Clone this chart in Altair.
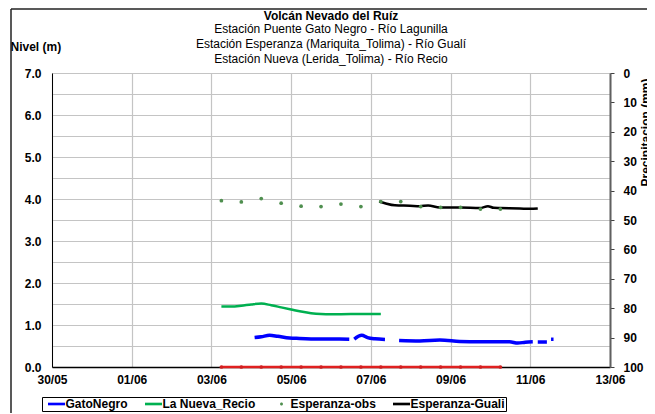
import altair as alt
import pandas as pd

FONT = "Liberation Sans"

# ---------------- data ----------------
series_names = ["GatoNegro", "La Nueva_Recio", "Esperanza-obs", "Esperanza-Guali"]
series_colors = ["#0000ff", "#00b050", "#4f8f4f", "#000000"]

# Esperanza-obs (and the red base series at 0) every 12 h
obs_times = ["06-03T06:00", "06-03T18:00", "06-04T06:00", "06-04T18:00", "06-05T06:00",
             "06-05T18:00", "06-06T06:00", "06-06T18:00", "06-07T06:00", "06-07T18:00",
             "06-08T06:00", "06-08T18:00", "06-09T06:00", "06-09T18:00", "06-10T06:00"]
obs_levels = [3.96, 3.93, 4.01, 3.90, 3.83, 3.82, 3.88, 3.82, 3.94, 3.94, 3.82, 3.80, 3.80, 3.76, 3.76]
base_levels = [0.0, 0.0, 0.0, 0.0, 0.0, 0.0, 0.0, 0.0, 0.0, 0.0, 0.0, 0.0, 0.0, 0.0, 0.0]

# La Nueva_Recio
recio_times = ["06-03T06:00", "06-03T12:00", "06-03T18:00", "06-04T00:00", "06-04T06:00",
               "06-04T12:00", "06-04T18:00", "06-05T00:00", "06-05T06:00", "06-05T12:00",
               "06-05T18:00", "06-06T00:00", "06-06T12:00", "06-07T00:00", "06-07T06:00"]
recio_levels = [1.44, 1.44, 1.46, 1.49, 1.51, 1.47, 1.42, 1.37, 1.32, 1.28, 1.26, 1.255, 1.26, 1.26, 1.26]

# GatoNegro (segments separated by gaps)
gato_times = ["06-04T02:00", "06-04T06:00", "06-04T11:00", "06-04T16:00", "06-04T23:00",
              "06-05T05:00", "06-05T17:00", "06-06T05:00", "06-06T11:00",
              "06-06T14:00", "06-06T18:30", "06-06T22:00", "06-07T02:30", "06-07T08:30",
              "06-07T17:00", "06-08T05:30", "06-08T17:30", "06-09T05:30", "06-09T17:30",
              "06-10T05:30", "06-10T11:30", "06-10T16:30", "06-10T21:00", "06-11T01:30",
              "06-11T04:30", "06-11T10:00",
              "06-11T12:30", "06-11T14:00"]
gato_levels = [0.70, 0.72, 0.755, 0.73, 0.69, 0.68, 0.667, 0.665, 0.66,
               0.665, 0.755, 0.70, 0.67, 0.655,
               0.63, 0.62, 0.64, 0.61, 0.60, 0.60, 0.60, 0.57, 0.59, 0.60,
               0.595, 0.595,
               0.66, 0.66]
gato_segments = [1, 1, 1, 1, 1, 1, 1, 1, 1,
                 2, 2, 2, 2, 2,
                 3, 3, 3, 3, 3, 3, 3, 3, 3, 3,
                 4, 4,
                 5, 5]

# Esperanza-Guali
guali_times = ["06-07T05:00", "06-07T08:30", "06-07T14:30", "06-07T23:30", "06-08T05:30",
               "06-08T10:30", "06-08T17:30", "06-09T05:45", "06-09T17:45", "06-09T22:30",
               "06-10T02:00", "06-10T05:45", "06-10T17:45", "06-10T23:45", "06-11T04:30"]
guali_levels = [3.94, 3.90, 3.85, 3.84, 3.83, 3.845, 3.80, 3.80, 3.785, 3.83,
                3.79, 3.785, 3.775, 3.765, 3.775]

x_ticks = [(5, 30), (6, 1), (6, 3), (6, 5), (6, 7), (6, 9), (6, 11), (6, 13)]
y_ticks = [0.0, 0.5, 1.0, 1.5, 2.0, 2.5, 3.0, 3.5, 4.0, 4.5, 5.0, 5.5, 6.0, 6.5, 7.0]
p_ticks = [0, 10, 20, 30, 40, 50, 60, 70, 80, 90, 100]

title_main = "Volcán Nevado del Ruíz"
title_sub = ["Estación Puente Gato Negro - Río Lagunilla",
             "Estación Esperanza (Mariquita_Tolima) - Río Gualí",
             "Estación Nueva (Lerida_Tolima) - Río Recio"]


def ts(s):
    return f"2012-{s}:00Z"


rows = []
for t, v in zip(obs_times, obs_levels):
    rows.append({"t": ts(t), "level": v, "series": "Esperanza-obs", "seg": 0})
for t, v in zip(obs_times, base_levels):
    rows.append({"t": ts(t), "level": v, "series": "base", "seg": 0})
for t, v in zip(recio_times, recio_levels):
    rows.append({"t": ts(t), "level": v, "series": "La Nueva_Recio", "seg": 0})
for t, v, s in zip(gato_times, gato_levels, gato_segments):
    rows.append({"t": ts(t), "level": v, "series": "GatoNegro", "seg": s})
for t, v in zip(guali_times, guali_levels):
    rows.append({"t": ts(t), "level": v, "series": "Esperanza-Guali", "seg": 0})
df = pd.DataFrame(rows)

# ---------------- scales / axes ----------------
xscale = alt.Scale(type="utc",
                   domain=[alt.DateTime(year=2012, month=5, date=30, utc=True),
                           alt.DateTime(year=2012, month=6, date=13, utc=True)])
xaxis = alt.Axis(values=[alt.DateTime(year=2012, month=m, date=d, utc=True) for m, d in x_ticks],
                 format="%d/%m", grid=True, gridColor="#c4c4c4", gridWidth=1.2,
                 ticks=False, labelPadding=7, labelFlush=False, domainColor="black",
                 domainWidth=1.5, labelFont=FONT, labelFontSize=12, labelFontWeight="bold",
                 labelColor="black", title=None)
X = alt.X("t:T", scale=xscale, axis=xaxis)

yscale = alt.Scale(domain=[0, 7], nice=False, zero=False)
yaxis = alt.Axis(values=y_ticks,
                 labelExpr="datum.value % 1 == 0 ? format(datum.value, '.1f') : ''",
                 grid=True, gridColor="#c4c4c4", gridWidth=1.2, ticks=False,
                 domainColor="black", labelFont=FONT, labelFontSize=12,
                 labelFontWeight="bold", labelColor="black", labelPadding=11,
                 labelFlush=False, title="Nivel (m)", titleAngle=0, titleAlign="left",
                 titleBaseline="middle", titleX=-42, titleY=-27, titleFont=FONT,
                 titleFontSize=12, titleFontWeight="bold", titleColor="black")
Y = alt.Y("level:Q", scale=yscale, axis=yaxis)

cscale = alt.Scale(domain=series_names, range=series_colors)
line_path = "M-1.42,-0.22L1.42,-0.22L1.42,0.22L-1.42,0.22Z"
dot_path = "M-0.25,0A0.25,0.25 0 1,0 0.25,0A0.25,0.25 0 1,0 -0.25,0Z"
sscale = alt.Scale(domain=series_names, range=[line_path, line_path, dot_path, line_path])

base = alt.Chart(df)


def line_layer(name, width):
    col = series_colors[series_names.index(name)]
    return base.transform_filter(alt.datum.series == name).mark_line(
        color=col, strokeWidth=width, strokeCap="butt", strokeJoin="round",
        interpolate="monotone"
    ).encode(x=X, y=Y, detail="seg:N")


gato = line_layer("GatoNegro", 3.5)
recio = line_layer("La Nueva_Recio", 2.5)
guali = line_layer("Esperanza-Guali", 2.5)

red_line = base.transform_filter(alt.datum.series == "base").mark_line(
    color="#e02020", strokeWidth=2.5
).encode(x=X, y=Y)
red_pts = base.transform_filter(alt.datum.series == "base").mark_circle(
    color="#d02020", size=14, opacity=1
).encode(x=X, y=Y)

obs = base.transform_filter(alt.datum.series == "Esperanza-obs").mark_circle(
    size=14, opacity=1, color=series_colors[2]
).encode(x=X, y=Y)

legend_layer = base.transform_filter("false").mark_point(filled=True, opacity=1).encode(
    x=X,
    y=Y,
    color=alt.Color("series:N", scale=cscale,
                    legend=alt.Legend(orient="none", legendX=-10, legendY=324,
                                      direction="horizontal", title=None,
                                      strokeColor="black", fillColor="white",
                                      padding=1, symbolSize=144, symbolStrokeWidth=0,
                                      symbolOffset=7.5,
                                      symbolOpacity=1, labelFont=FONT, labelFontSize=12,
                                      labelFontWeight="bold", labelColor="black",
                                      labelOffset=3, columnPadding=12, cornerRadius=0)),
    shape=alt.Shape("series:N", scale=sscale, legend=None),
)

levels = alt.layer(red_line, red_pts, recio, gato, guali, obs, legend_layer)

precip = base.transform_filter("false").mark_point(opacity=0).encode(
    x=X,
    y=alt.Y("precip:Q",
            scale=alt.Scale(domain=[0, 100], reverse=True, nice=False, zero=False),
            axis=alt.Axis(orient="right", values=p_ticks, grid=False, ticks=True,
                          tickSize=4, tickColor="#404040", domainColor="#606060",
                          domainWidth=2, labelPadding=9, labelFlush=False,
                          labelFont=FONT, labelFontSize=12, labelFontWeight="bold",
                          labelColor="black", title="Precipitacion (mm)",
                          titleAngle=270, titleBaseline="top", titleAlign="center",
                          titleX=30, titleY=59, titleFont=FONT, titleFontSize=12,
                          titleFontWeight="bold", titleColor="black")),
)

frame_df = pd.DataFrame({"a": [0]})
frame_top = alt.Chart(frame_df).mark_rule(color="#222", strokeWidth=1.5).encode(
    x=alt.value(-41), x2=alt.value(600), y=alt.value(-64), y2=alt.value(-64))
frame_left = alt.Chart(frame_df).mark_rule(color="#222", strokeWidth=1.5).encode(
    x=alt.value(-41), x2=alt.value(-41), y=alt.value(-64), y2=alt.value(345))

chart = alt.layer(levels, precip, frame_top, frame_left).resolve_scale(
    y="independent"
).properties(
    width=558, height=294,
    padding={"left": 44, "top": 65, "right": 37, "bottom": 46},
    autosize=alt.AutoSizeParams(type="none"),
    title=alt.TitleParams(text=title_main, subtitle=title_sub, anchor="middle",
                          frame="group", font=FONT, fontSize=12, fontWeight="bold",
                          color="black", subtitleFont=FONT, subtitleFontSize=12,
                          subtitleColor="black", subtitleLineHeight=15,
                          subtitlePadding=1, offset=-58),
).configure_view(stroke="black", strokeWidth=1).configure(background="white")

chart.save("out.html", embed_options={"renderer": "svg", "actions": False})
